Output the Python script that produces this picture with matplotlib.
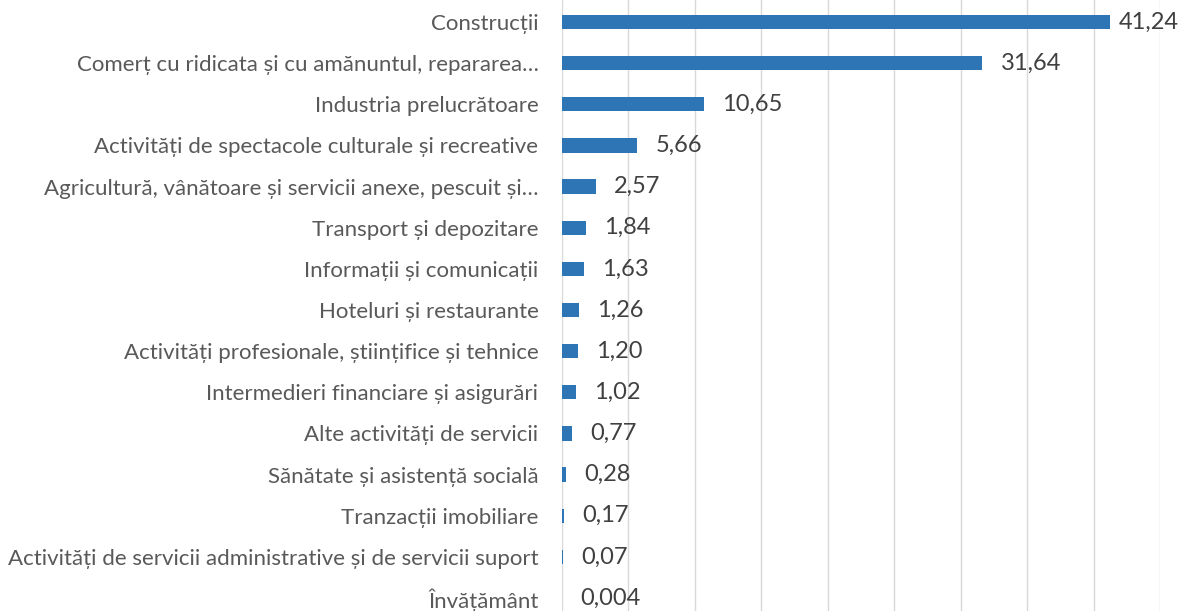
import matplotlib.pyplot as plt

categories = [
    "Construcții",
    "Comerț cu ridicata și cu amănuntul, repararea…",
    "Industria prelucrătoare",
    "Activități de spectacole culturale și recreative",
    "Agricultură, vânătoare și servicii anexe, pescuit și…",
    "Transport și depozitare",
    "Informații și comunicații",
    "Hoteluri și restaurante",
    "Activități profesionale, științifice și tehnice",
    "Intermedieri financiare și asigurări",
    "Alte activități de servicii",
    "Sănătate și asistență socială",
    "Tranzacții imobiliare",
    "Activități de servicii administrative și de servicii suport",
    "Învățământ",
]
values = [41.24, 31.64, 10.65, 5.66, 2.57, 1.84, 1.63, 1.26, 1.20, 1.02, 0.77, 0.28, 0.17, 0.07, 0.004]
value_labels = ["41,24", "31,64", "10,65", "5,66", "2,57", "1,84", "1,63", "1,26", "1,20",
                "1,02", "0,77", "0,28", "0,17", "0,07", "0,004"]

plt.rcParams['font.family'] = ['Lato', 'DejaVu Sans']

fig = plt.figure(figsize=(11.83, 6.11), dpi=100)
ax = fig.add_axes([562 / 1183, 0, (1160 - 562) / 1183, 1])

pos = list(range(len(categories)))
ax.barh(pos, values, height=0.35, color='#2E75B6', zorder=3)

for p, v, lab in zip(pos, values, value_labels):
    # the longest bar's label is pulled in so it stays on the canvas
    off = 6 if v == max(values) else 13
    ax.annotate(lab, (v, p), xytext=(off, 0), textcoords='offset points',
                va='center', ha='left', fontsize=17, color='#404040')

ax.set_xlim(0, 45)
ax.set_xticks(range(0, 46, 5))
ax.set_ylim(14.316, -0.535)
ax.set_yticks(pos)
ax.set_yticklabels(categories, fontsize=16, color='#595959')
ax.tick_params(axis='y', length=0, pad=17)
ax.tick_params(axis='x', length=0, labelbottom=False)
ax.grid(axis='x', color='#D9D9D9', linewidth=1, zorder=0)
for s in ax.spines.values():
    s.set_visible(False)

fig.savefig('out.png', dpi=100)
